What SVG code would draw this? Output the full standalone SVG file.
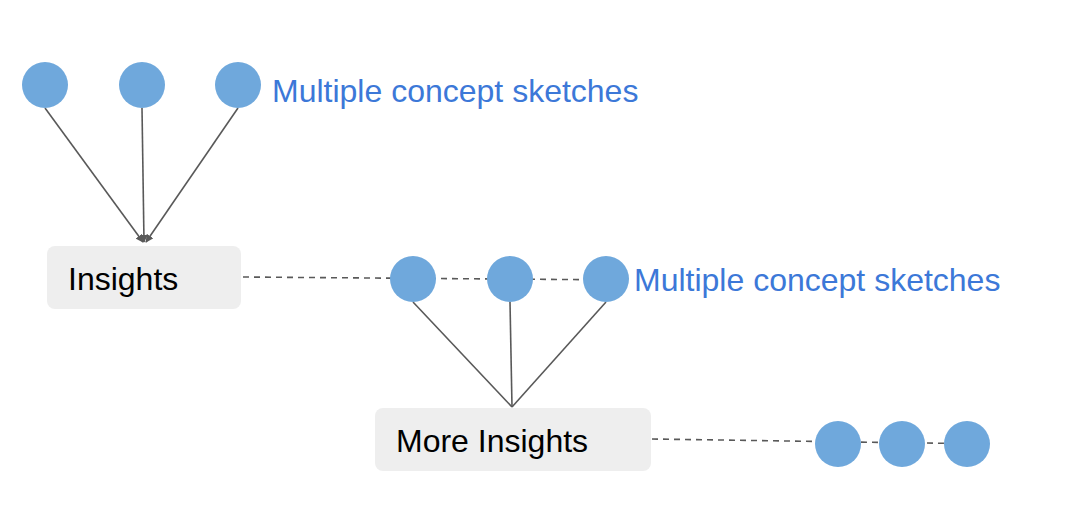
<svg xmlns="http://www.w3.org/2000/svg" width="1087" height="527" viewBox="0 0 1087 527">
<style>
.c{fill:#6fa8dc}
.box{fill:#eeeeee}
.l{stroke:#595959;stroke-width:1.6;fill:none}
.d{stroke:#595959;stroke-width:1.6;stroke-dasharray:6,5;fill:none}
.t{font-family:"Liberation Sans",Arial,sans-serif;font-size:32px;fill:#000}
.b{font-family:"Liberation Sans",Arial,sans-serif;font-size:32px;fill:#3c78d8}
</style>
<defs><marker id="a" viewBox="0 0 10 10" refX="9" refY="5" markerWidth="5" markerHeight="5" orient="auto"><path d="M0,0L10,5L0,10z" fill="#595959"/></marker></defs>
<g id="connectors">
<line class="l" x1="45" y1="108" x2="143" y2="242" marker-end="url(#a)"/>
<line class="l" x1="142" y1="108" x2="144" y2="242" marker-end="url(#a)"/>
<line class="l" x1="238" y1="108" x2="146" y2="242" marker-end="url(#a)"/>
<line class="d" x1="243" y1="277" x2="628" y2="280"/>
<line class="l" x1="413" y1="302" x2="512" y2="407"/>
<line class="l" x1="510" y1="302" x2="512" y2="407"/>
<line class="l" x1="606" y1="302" x2="512" y2="407"/>
<line class="d" x1="652" y1="439" x2="990" y2="444"/>
</g>
<g id="sketches1"><circle class="c" cx="45" cy="85" r="23"/><circle class="c" cx="142" cy="85" r="23"/><circle class="c" cx="238" cy="85" r="23"/><text class="b" x="272" y="102">Multiple concept sketches</text></g>
<g id="insights"><rect class="box" x="47" y="246" width="194" height="63" rx="8"/><text class="t" x="68" y="290">Insights</text></g>
<g id="sketches2"><circle class="c" cx="413" cy="279" r="23"/><circle class="c" cx="510" cy="279" r="23"/><circle class="c" cx="606" cy="279" r="23"/><text class="b" x="634" y="291">Multiple concept sketches</text></g>
<g id="more"><rect class="box" x="375" y="408" width="276" height="63" rx="8"/><text class="t" x="396" y="452">More Insights</text></g>
<g id="sketches3"><circle class="c" cx="838" cy="444" r="23"/><circle class="c" cx="902" cy="444" r="23"/><circle class="c" cx="967" cy="444" r="23"/></g>
</svg>
